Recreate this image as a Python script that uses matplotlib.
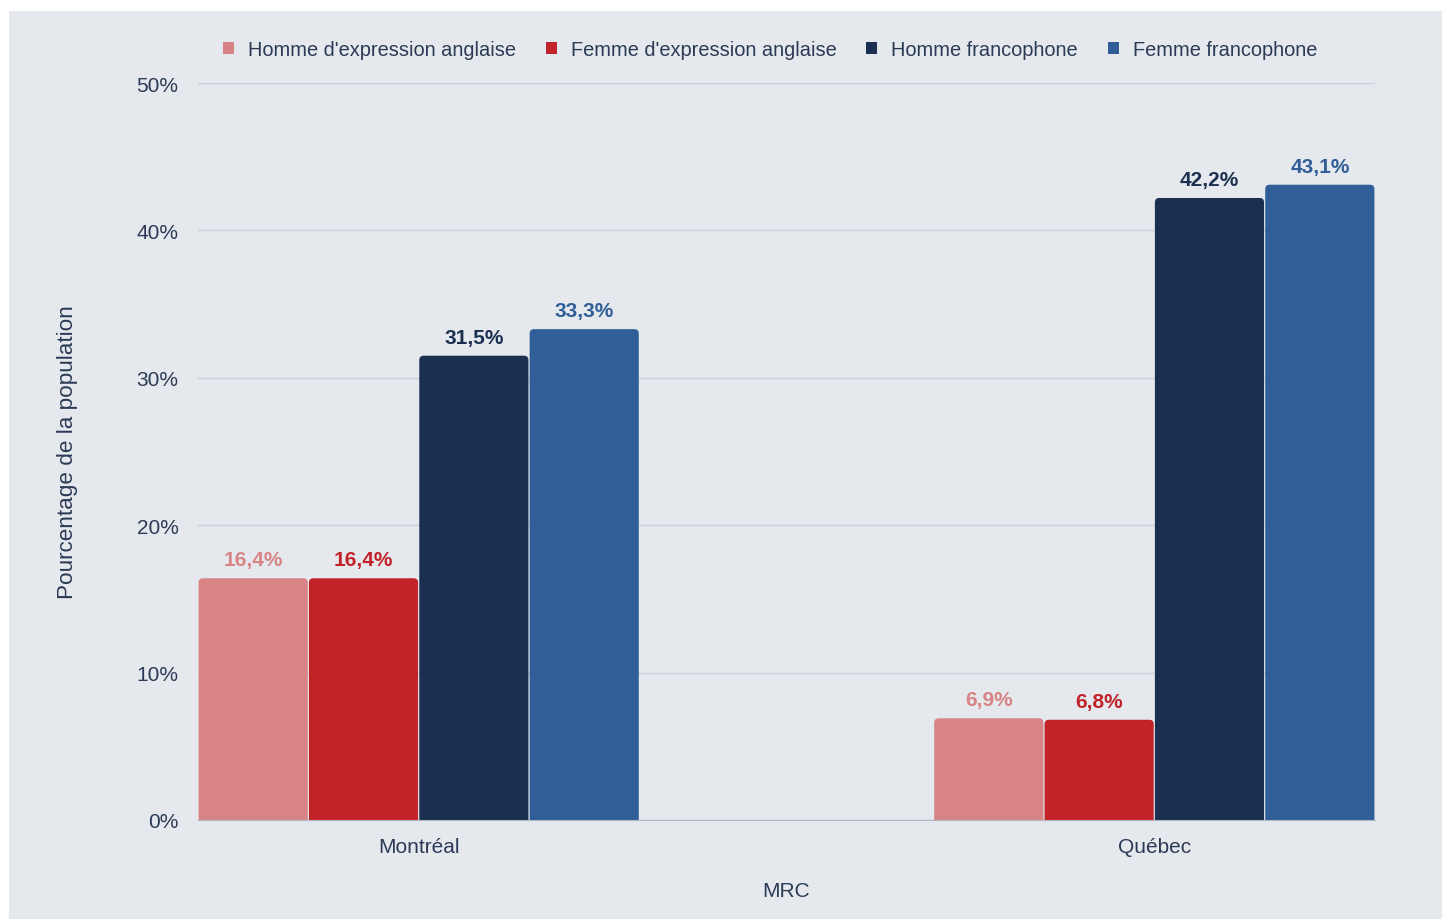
import numpy as np
import matplotlib
matplotlib.use('Agg')
import matplotlib.pyplot as plt
from matplotlib.patches import Rectangle, FancyBboxPatch, Patch

# données
mrc = ['Montréal', 'Québec']
series = ["Homme d'expression anglaise", "Femme d'expression anglaise",
          'Homme francophone', 'Femme francophone']
values = [
    [16.4, 6.9],
    [16.4, 6.8],
    [31.5, 42.2],
    [33.3, 43.1],
]
colors = ['#D88484', '#C12329', '#1B3050', '#2F5E98']
y_ticks = [0, 10, 20, 30, 40, 50]

plt.rcParams['font.family'] = ['Liberation Sans', 'DejaVu Sans']
bg = '#E5E9EE'
txt = '#2B3A55'

fig = plt.figure(figsize=(14.42, 9.2), dpi=100, facecolor='white')
# panneau de fond
fig.patches.append(Rectangle((9 / 1442, 0), 1, 1 - 12 / 920, transform=fig.transFigure,
                             facecolor=bg, edgecolor='none', zorder=-10))
ax = fig.add_axes([198 / 1442, 99 / 920, 1177 / 1442, 737 / 920])
ax.set_facecolor(bg)
ax.set_xlim(-0.3, 1.3)
ax.set_ylim(0, 50)

x = np.arange(len(mrc))
w = 0.15
for i, (name, vals) in enumerate(zip(series, values)):
    pos = x + (i - 1.5) * w
    bars = ax.bar(pos, vals, width=w, color=colors[i], label=name, zorder=3)
    for b, v in zip(bars, vals):
        # coins arrondis en haut (le bas est coupé par l'axe)
        b.set_visible(False)
        rb = FancyBboxPatch((b.get_x() + 0.0008, -1), b.get_width() - 0.0016, v + 1,
                            boxstyle='round,pad=0,rounding_size=0.006',
                            mutation_aspect=50, facecolor=colors[i],
                            edgecolor='none', zorder=3)
        ax.add_patch(rb)
        ax.text(b.get_x() + b.get_width() / 2, v + 0.6, f'{v:.1f}%'.replace('.', ','),
                ha='center', va='bottom', fontsize=15, fontweight='bold', color=colors[i])

ax.set_yticks(y_ticks)
ax.set_yticklabels([f'{t}%' for t in y_ticks])
ax.set_xticks(x)
ax.set_xticklabels(mrc)
ax.tick_params(length=0, labelsize=15, colors=txt, pad=14)
ax.tick_params(axis='x', pad=12)
ax.grid(axis='y', color='#C8CFD9', linewidth=1, zorder=0)
for s in ['top', 'right', 'left']:
    ax.spines[s].set_visible(False)
ax.spines['bottom'].set_color('#AEB7C4')
ax.spines['bottom'].set_zorder(4)

ax.set_ylabel('Pourcentage de la population', fontsize=16.2, color=txt, labelpad=42)
ax.set_xlabel('MRC', fontsize=15, color=txt, labelpad=18)

handles = [Patch(facecolor=c, edgecolor='none') for c in colors]
leg = fig.legend(handles, series, loc='center', bbox_to_anchor=(770 / 1442, 1 - 51 / 920),
                 ncol=4, frameon=False, fontsize=14.4, handlelength=0.55, handleheight=0.55,
                 handletextpad=0.7, columnspacing=1.5, labelcolor=txt)

fig.savefig('out.png', dpi=100, facecolor='white')
